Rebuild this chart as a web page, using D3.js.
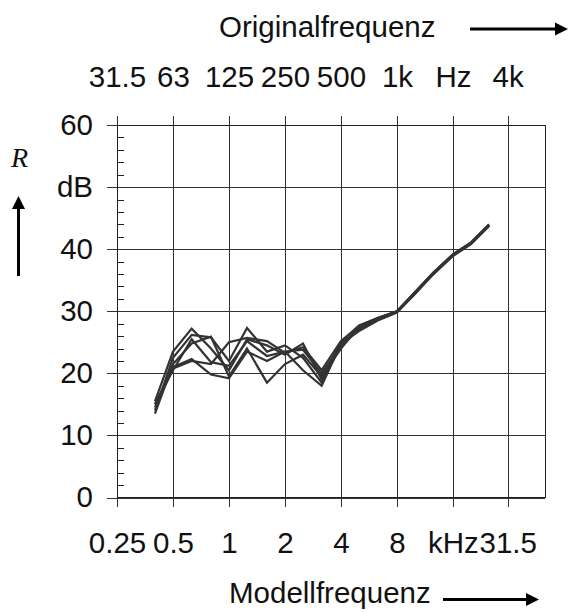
<!DOCTYPE html>
<html>
<head>
<meta charset="utf-8">
<script src="https://cdn.jsdelivr.net/npm/d3@7"></script>
<style>
  body { margin: 0; background: #fff; }
  .chart { width: 568px; height: 612px; }
  text { font-family: "Liberation Sans", Arial, sans-serif; fill: #111; }
</style>
</head>
<body>
<div class="chart"></div>
<script>
// third-octave model frequencies (kHz)
let freqs = [0.4, 0.5, 0.63, 0.8, 1, 1.25, 1.6, 2, 2.5, 3.15, 4, 5, 6.3, 8, 10, 12.5, 16, 20, 25];

// sound reduction index R in dB, one array per measurement
let run1 = [15.5, 23.5, 27.2, 24.0, 20.5, 25.5, 24.5, 23.0, 24.8, 19.0, 25.0, 27.7, 28.9, 30.0, 33.0, 36.1, 39.1, 41.0, 43.9];
let run2 = [14.0, 22.5, 26.2, 25.8, 22.0, 27.3, 23.5, 24.5, 22.5, 18.5, 24.5, 27.0, 28.6, 29.9, 32.9, 36.0, 39.0, 40.9, 43.8];
let run3 = [13.5, 21.5, 24.8, 25.9, 19.5, 24.0, 18.5, 21.5, 23.0, 19.5, 24.0, 27.5, 28.8, 30.0, 33.1, 36.2, 39.2, 41.1, 44.0];
let run4 = [15.0, 21.0, 22.3, 19.8, 19.2, 23.5, 22.0, 23.5, 20.5, 18.0, 24.8, 26.8, 28.5, 29.8, 32.8, 35.9, 38.9, 40.8, 43.7];
let run5 = [14.5, 20.8, 22.0, 21.5, 25.0, 25.7, 25.2, 23.3, 24.2, 20.5, 25.2, 27.6, 28.9, 30.0, 33.0, 36.1, 39.1, 41.0, 43.9];
let run6 = [15.0, 20.5, 25.5, 21.8, 21.2, 25.2, 22.8, 23.5, 23.8, 20.0, 24.5, 27.3, 28.7, 29.9, 32.9, 36.0, 39.0, 40.9, 43.8];
let runs = [run1, run2, run3, run4, run5, run6];

// axes
let xTicks = [0.25, 0.5, 1, 2, 4, 8, 16, 31.5];
let xLabels = ["0.25", "0.5", "1", "2", "4", "8", "kHz", "31.5"];
let topLabels = ["31.5", "63", "125", "250", "500", "1k", "Hz", "4k"];
let yTicks = [0, 10, 20, 30, 40, 50, 60];
let yLabels = ["0", "10", "20", "30", "40", "dB", "60"];
let yMinor = [2, 4, 6, 8, 12, 14, 16, 18, 22, 24, 26, 28, 32, 34, 36, 38, 42, 44, 46, 48, 52, 54, 56, 58];

function init() {
    let margin = { top: 125, right: 23, bottom: 114.5, left: 117 };
    let fullW = 568, fullH = 612;
    let width = fullW - margin.left - margin.right;
    let height = fullH - margin.top - margin.bottom;

    let xScale = d3.scaleLog().base(2)
        .domain([0.25, 50])
        .range([0, width]);

    let yScale = d3.scaleLinear()
        .domain([0, 60])
        .range([height, 0]);

    let svg = d3.select(".chart").append("svg")
        .attr("width", fullW)
        .attr("height", fullH);

    let plot = svg.append("g")
        .attr("transform", `translate(${margin.left},${margin.top})`);

    let fontSize = 29.5;

    // horizontal grid + y labels (ticks stick out 10px to the left)
    let yAxis = plot.append("g")
        .attr("transform", "translate(-10,0)")
        .call(d3.axisLeft(yScale)
            .tickValues(yTicks)
            .tickSize(-(width + 10))
            .tickPadding(14)
            .tickFormat((d, i) => yLabels[i]));
    yAxis.select(".domain").remove();
    yAxis.selectAll("line").attr("stroke", "#333").attr("shape-rendering", "crispEdges");
    yAxis.selectAll("text").attr("font-size", fontSize).attr("font-family", null).attr("fill", "#111");

    // minor ticks inside the left axis
    let yMin = plot.append("g")
        .call(d3.axisRight(yScale).tickValues(yMinor).tickSize(7).tickFormat(""));
    yMin.select(".domain").remove();
    yMin.selectAll("line").attr("stroke", "#222").attr("shape-rendering", "crispEdges");

    // vertical grid + bottom labels
    let xAxis = plot.append("g")
        .attr("transform", `translate(0,${height + 9})`)
        .call(d3.axisBottom(xScale)
            .tickValues(xTicks)
            .tickSize(-(height + 18))
            .tickPadding(26)
            .tickFormat((d, i) => xLabels[i]));
    xAxis.select(".domain").remove();
    xAxis.selectAll("line").attr("stroke", "#333").attr("shape-rendering", "crispEdges");
    xAxis.selectAll("text").attr("font-size", fontSize).attr("font-family", null).attr("fill", "#111")
        .attr("dy", "0.69em");

    // top labels: original frequency
    let topAxis = plot.append("g")
        .attr("transform", "translate(0,-9)")
        .call(d3.axisTop(xScale)
            .tickValues(xTicks)
            .tickSize(0)
            .tickPadding(29)
            .tickFormat((d, i) => topLabels[i]));
    topAxis.select(".domain").remove();
    topAxis.selectAll("text").attr("font-size", fontSize).attr("font-family", null).attr("fill", "#111");

    // frame
    plot.append("rect")
        .attr("x", 0).attr("y", 0)
        .attr("width", width).attr("height", height)
        .attr("fill", "none")
        .attr("stroke", "#222")
        .attr("shape-rendering", "crispEdges");

    // measurement lines
    let line = d3.line()
        .x((d, i) => xScale(freqs[i]))
        .y(d => yScale(d));

    plot.selectAll(".run")
        .data(runs)
        .enter().append("path")
        .attr("class", "run")
        .attr("d", line)
        .attr("fill", "none")
        .attr("stroke", "#333")
        .attr("stroke-width", 2.2)
        .attr("stroke-linejoin", "miter");

    // arrows drawn as shaft + filled head
    function arrow(x1, y1, x2, y2, w) {
        let ang = Math.atan2(y2 - y1, x2 - x1);
        let len = 13, half = 6.5;
        let bx = x2 - len * Math.cos(ang), by = y2 - len * Math.sin(ang);
        svg.append("line")
            .attr("x1", x1).attr("y1", y1)
            .attr("x2", bx).attr("y2", by)
            .attr("stroke", "#000").attr("stroke-width", w);
        let px = -Math.sin(ang) * half, py = Math.cos(ang) * half;
        svg.append("path")
            .attr("d", `M${x2},${y2}L${bx + px},${by + py}L${bx - px},${by - py}Z`)
            .attr("fill", "#000");
    }

    // top title
    svg.append("text")
        .attr("x", 219).attr("y", 37)
        .attr("font-size", fontSize)
        .text("Originalfrequenz");
    arrow(470, 29, 568, 29, 3);

    // bottom title
    svg.append("text")
        .attr("x", 229).attr("y", 603)
        .attr("font-size", fontSize)
        .text("Modellfrequenz");
    arrow(443, 599.5, 539, 599.5, 3);

    // y title
    svg.append("text")
        .attr("x", 11).attr("y", 167)
        .attr("font-size", 28)
        .attr("font-style", "italic")
        .style("font-family", "'Liberation Serif', 'Times New Roman', serif")
        .text("R");
    arrow(18.5, 276, 18.5, 196, 3);
}

init();
</script>
</body>
</html>
